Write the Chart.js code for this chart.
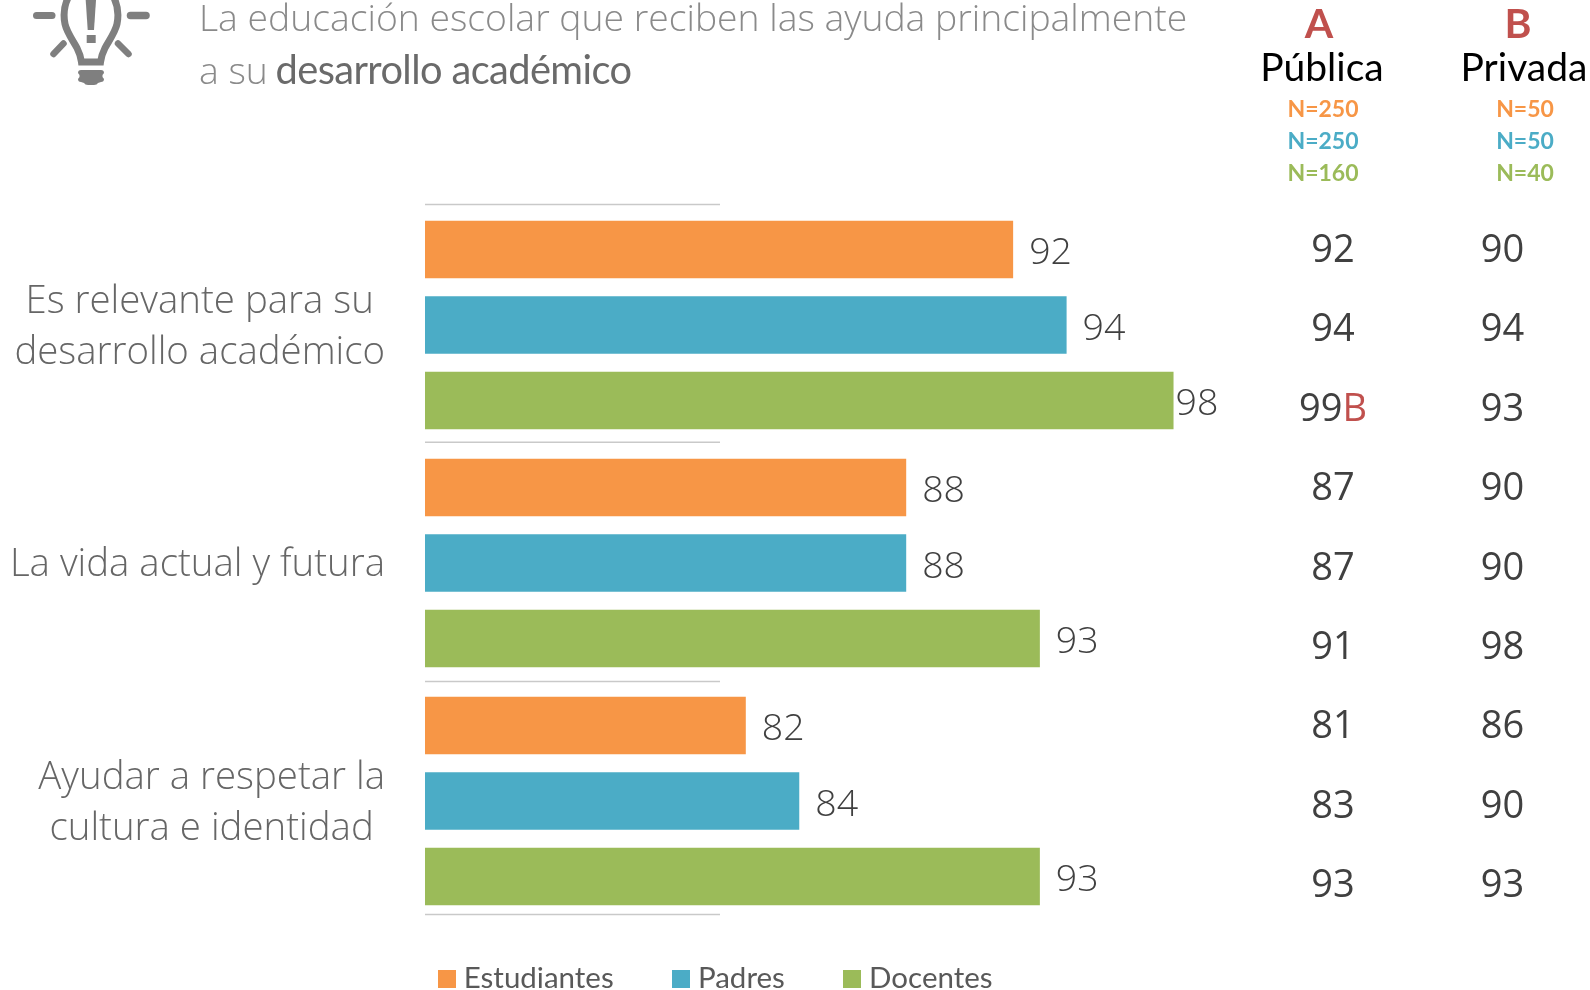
<!DOCTYPE html>
<html lang="es">
<head>
<meta charset="utf-8">
<style>
html,body{margin:0;padding:0;background:#fff;width:1590px;height:990px;overflow:hidden}
#wrap{position:relative;width:1590px;height:990px;overflow:hidden}
canvas#c{position:absolute;left:0;top:0}
.t{position:absolute;white-space:nowrap;line-height:1}
.ctr{transform:translateX(-50%)}
</style>
<script src="https://cdn.jsdelivr.net/npm/chart.js@4"></script>
</head>
<body>
<div id="wrap">
<canvas id="c" width="1590" height="990"></canvas>
<svg style="position:absolute;left:0;top:0" width="160" height="95" viewBox="0 0 160 95">
  <g fill="#7f7f7f" stroke="none">
    <path d="M85.7 0 H96 L94 30 H87.7z"/>
    <rect x="86.7" y="35" width="9" height="8"/>
    <path d="M81 70 H101 q3 0 3 3 l-1.5 2 v2 l1.5 2 q0 3-3 3 l-3 1 q-1 2-4 2 h-6 q-3 0-4-2 l-3-1 q-3 0-3-3 l1.5-2 v-2 l-1.5-2 q0-3 3-3z"/>
  </g>
  <g fill="none" stroke="#7f7f7f" stroke-linecap="round">
    <path d="M36.5 15.5 H52" stroke-width="7"/>
    <path d="M130.5 15.5 H146" stroke-width="7.5"/>
    <path d="M63.5 43.5 L53.5 54" stroke-width="6.5"/>
    <path d="M118 43.5 L128.5 54" stroke-width="6.5"/>
  </g>
  <path d="M69 -4 C64 5 63 14 65 24 C67 33 74 42 77 48 C80 54 81 58 81.5 62 H100.5 C101 58 102 54 105 48 C108 42 115 33 117 24 C119 14 118 5 113 -4" fill="none" stroke="#7f7f7f" stroke-width="7"/>
</svg>
<div class="t" style="left:199px;top:-6px;font:300 37.3px 'Open Sans';color:#8a8a8a;line-height:46px">La educación escolar que reciben las ayuda principalmente</div>
<div class="t" style="left:199px;top:44.5px;font:300 37.3px 'Open Sans';color:#8a8a8a;line-height:46px">a su <span style="font:400 39.8px Lato;color:#6a6a6a;letter-spacing:-.6px;margin-left:-2px">desarrollo académico</span></div>
<div id="tbl"></div>
</div>
<script>
const categories = [["Es relevante para su","desarrollo académico"],["La vida actual y futura"],["Ayudar a respetar la","cultura e identidad"]];
const seriesNames = ["Estudiantes","Padres","Docentes"];
const seriesColors = ["#f79646","#4bacc6","#9bbb59"];
const estudiantes = [92,88,82];
const padres = [94,88,84];
const docentes = [98,93,93];
const headLetters = ["A","B"];
const headNames = ["Pública","Privada"];
const nPublica = ["N=250","N=250","N=160"];
const nPrivada = ["N=50","N=50","N=40"];
const publica = ["92","94","99","87","87","91","81","83","93"];
const privada = ["90","94","93","90","90","98","86","90","93"];
const publicaMark = ["","","B","","","","","",""];

const FONT = "'Open Sans'";
function add(txt,x,y,style,ctr){
  const d=document.createElement('div');
  d.className='t'+(ctr?' ctr':'');
  d.textContent=txt; d.style.left=x+'px'; d.style.top=y+'px'; d.style.cssText+=';'+style;
  document.getElementById('tbl').appendChild(d); return d;
}
const RED='#c0504d';
headLetters.forEach((l,i)=>add(l,[1319,1518][i],-2,`font:700 41px Lato;color:${RED}`,true));
headNames.forEach((l,i)=>add(l,[1322,1524][i],43,`font:400 39px Lato;color:#000`,true));
[nPublica,nPrivada].forEach((arr,j)=>arr.forEach((s,i)=>add(s,[1323,1525][j],94+i*32,`font:700 23px Lato;color:${seriesColors[i]}`,true)));
const rowY=i=>221+i*79.4;
publica.forEach((s,i)=>{
  const d=add(s,1333,rowY(i),`font:400 38px ${FONT};color:#404040`,true);
  if(publicaMark[i]){const m=document.createElement('span');m.textContent=publicaMark[i];m.style.color=RED;d.appendChild(m);}
});
privada.forEach((s,i)=>add(s,1502.5,rowY(i),`font:400 38px ${FONT};color:#404040`,true));

function swatch(color){
  const s=document.createElement('canvas');s.width=18;s.height=18;
  const g=s.getContext('2d');g.fillStyle=color;g.fillRect(0,0,18,18);return s;
}
const sepOffsets=[-1.6,-1.8,-0.5,-5.5];
const extras={
  id:'extras',
  afterLayout(chart){
    const lg=chart.legend;
    lg.left=445-lg.options.labels.padding;
    lg.top=964-lg.options.labels.padding;
  },
  afterDraw(chart){
    const ctx=chart.ctx,y=chart.scales.y,x=chart.scales.x;
    const step=Math.abs(y.getPixelForValue(1)-y.getPixelForValue(0));
    ctx.save();
    ctx.strokeStyle='#c9c9c9';ctx.lineWidth=1.5;
    for(let i=0;i<=categories.length;i++){
      const yy=y.getPixelForValue(0)-step/2+i*step+sepOffsets[i];
      ctx.beginPath();ctx.moveTo(x.left,yy);ctx.lineTo(720,yy);ctx.stroke();
    }
    ctx.font="300 38.4px "+FONT;ctx.fillStyle='#666';ctx.textAlign='center';ctx.textBaseline='middle';
    categories.forEach((lines,i)=>{
      const cy=y.getPixelForValue(i)+2.5;
      const w=Math.max(...lines.map(s=>ctx.measureText(s).width));
      lines.forEach((s,k)=>ctx.fillText(s,385-w/2,cy+(k-(lines.length-1)/2)*51.7));
    });
    ctx.font="300 37.5px "+FONT;ctx.fillStyle='#404040';ctx.textAlign='left';
    chart.data.datasets.forEach((ds,di)=>{
      chart.getDatasetMeta(di).data.forEach((b,i)=>{
        const gap=b.x+16+ctx.measureText(String(ds.data[i])).width>1219?2:16;
        ctx.fillText(String(ds.data[i]),b.x+gap,b.y+4);
      });
    });
    ctx.restore();
  }
};
new Chart(document.getElementById('c'),{
  type:'bar',
  data:{labels:categories,datasets:[estudiantes,padres,docentes].map((d,i)=>({
    label:seriesNames[i],data:d,backgroundColor:seriesColors[i],pointStyle:swatch(seriesColors[i]),
    categoryPercentage:.952,barPercentage:.76,borderWidth:0
  }))},
  options:{
    indexAxis:'y',responsive:false,animation:false,
    layout:{padding:{left:425,right:363,top:206,bottom:-35}},
    scales:{
      x:{display:false,min:70,max:100},
      y:{display:false}
    },
    plugins:{
      tooltip:{enabled:false},
      legend:{position:'bottom',align:'start',fullSize:false,
        labels:{usePointStyle:true,boxWidth:4,boxHeight:4,padding:65.5,color:'#595959',font:{family:'Lato',size:29.5}}}
    }
  },
  plugins:[extras]
});
</script>
</body>
</html>
